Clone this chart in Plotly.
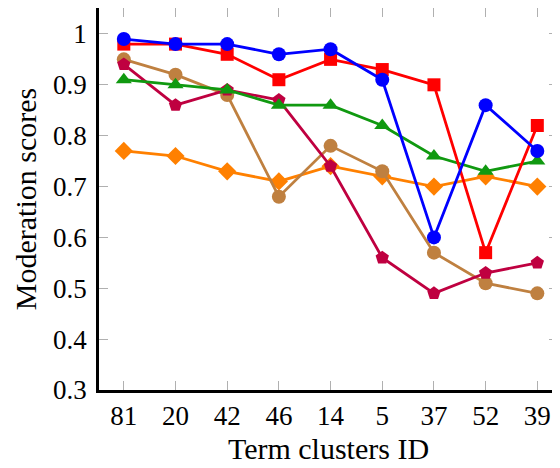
import plotly.graph_objects as go

clusters = ["81", "20", "42", "46", "14", "5", "37", "52", "39"]
blue_vals = [0.99, 0.98, 0.98, 0.96, 0.97, 0.91, 0.60, 0.86, 0.77]
red_vals = [0.98, 0.98, 0.96, 0.91, 0.95, 0.93, 0.90, 0.57, 0.82]
green_vals = [0.91, 0.90, 0.89, 0.86, 0.86, 0.82, 0.76, 0.73, 0.75]
purple_vals = [0.94, 0.86, 0.89, 0.87, 0.74, 0.56, 0.49, 0.53, 0.55]
brown_vals = [0.95, 0.92, 0.88, 0.68, 0.78, 0.73, 0.57, 0.51, 0.49]
orange_vals = [0.77, 0.76, 0.73, 0.71, 0.74, 0.72, 0.70, 0.72, 0.70]

series = [
    (orange_vals, "#FF8000", "diamond", 14),
    (brown_vals, "#BF8040", "circle", 14),
    (purple_vals, "#BF0040", "pentagon", 14),
    (green_vals, "#109910", "triangle-up", 14),
    (red_vals, "#FF0000", "square", 13),
    (blue_vals, "#0000FF", "circle", 14),
]

xs = list(range(len(clusters)))
fig = go.Figure()
for vals, color, sym, size in series:
    fig.add_trace(go.Scatter(
        x=xs, y=vals, mode="lines+markers",
        line=dict(color=color, width=2.8),
        marker=dict(color=color, symbol=sym, size=size, line=dict(width=0)),
        showlegend=False, cliponaxis=False,
    ))

fam = "Liberation Serif, Times New Roman, serif"
font = dict(family=fam, size=27, color="black")
title_font = dict(family=fam, size=30, color="black")
# page body has an 8px margin, so the figure is 552x460 placed at (8, 8)
fig.update_layout(
    width=552, height=460,
    margin=dict(l=91, r=2, t=0, b=78),
    plot_bgcolor="white", paper_bgcolor="white",
    font=font,
)
fig.update_xaxes(
    range=[-0.48, 8.4],
    tickvals=xs, ticktext=clusters,
    showline=True, linecolor="black", linewidth=2.5, mirror="allticks",
    ticks="inside", ticklen=9, tickcolor="#b0b0b0", tickwidth=1,
    showgrid=False, zeroline=False, automargin=False,
    title=dict(text="Term clusters ID", font=title_font, standoff=8),
    tickfont=font,
)
fig.update_yaxes(
    range=[0.3, 1.051],
    tickvals=[0.3, 0.4, 0.5, 0.6, 0.7, 0.8, 0.9, 1.0],
    ticktext=["0.3", "0.4", "0.5", "0.6", "0.7", "0.8", "0.9", "1"],
    showline=True, linecolor="black", linewidth=2.5, mirror="allticks",
    ticks="inside", ticklen=9, tickcolor="#b0b0b0", tickwidth=1,
    showgrid=False, zeroline=False, automargin=False,
    ticklabelstandoff=4,
    title=dict(text="Moderation scores", font=title_font, standoff=8),
    tickfont=font,
)
fig.write_html("out.html")
